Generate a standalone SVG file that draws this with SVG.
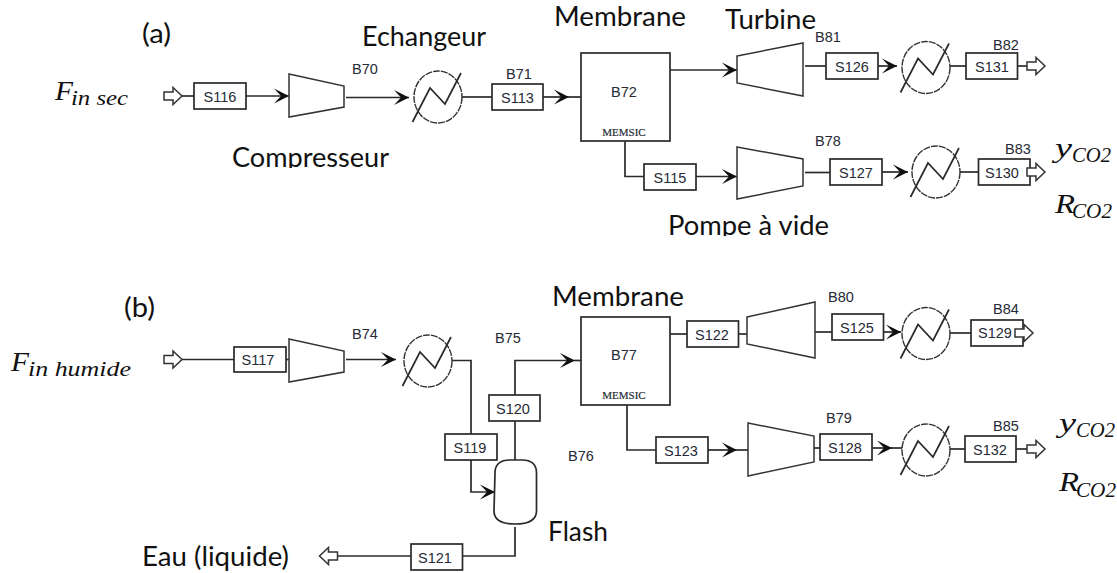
<svg xmlns="http://www.w3.org/2000/svg" width="1117" height="573" viewBox="0 0 1117 573">
<style>
.l{fill:none;stroke:#2a2a2a;stroke-width:1.7}
.a{marker-end:url(#ch)}
.b{fill:#fff;stroke:#2a2a2a;stroke-width:1.7}
.u{fill:#fff;stroke:#333;stroke-width:1.5}
.h{fill:#fff;stroke:#333;stroke-width:1.4;stroke-dasharray:7 1}
.t{font-family:"Liberation Sans",Arial,sans-serif;font-size:14.5px;fill:#262a36}
.c{text-anchor:middle}
.m{font-family:"Liberation Serif",serif;font-size:11px;fill:#262a36;text-anchor:middle;stroke:#262a36;stroke-width:.2}
.p{font-family:Lato,"Open Sans",sans-serif;font-size:26px;fill:#111}
.f{font-family:"Liberation Serif",serif;font-style:italic;fill:#111;font-size:27px}
.s{font-family:"Liberation Serif",serif;font-style:italic;fill:#111;font-size:20px}
.o{fill:#fff;stroke:#333;stroke-width:1.5}
</style>
<defs>
<marker id="ch" markerUnits="userSpaceOnUse" markerWidth="18" markerHeight="18" refX="16" refY="9" orient="auto" viewBox="0 0 18 18"><path d="M1,1.500 L16,9 L1,16.500 L8,9z" fill="#111"/></marker>
<path id="out" d="M0,-4 H9 V-8.500 L18,0 L9,8.500 V4 H0z"/>
<path id="zig" d="M-25.500,25 L-8,-9 L7,7 L23,-24"/>
<clipPath id="c1"><rect x="200" y="140" width="220" height="28"/></clipPath>
<clipPath id="c2"><rect x="640" y="205" width="220" height="31"/></clipPath>
</defs>

<g id="connectors">
<path class="l" d="M182,96 H194"/>
<path class="l a" d="M246,96 H289"/>
<path class="l a" d="M346,97.500 H409"/>
<path class="l" d="M462,97 H492"/>
<path class="l a" d="M543,97 H569"/><path class="l" d="M569,97 H581"/>
<path class="l a" d="M670,70 H737"/>
<path class="l" d="M805,66 H826"/>
<path class="l a" d="M878,66 H897"/>
<path class="l" d="M950,66 H966"/>
<path class="l" d="M1017,66 H1027"/>
<path class="l" d="M625,141 V176.500 H644"/>
<path class="l a" d="M696,176.500 H737"/>
<path class="l" d="M805,172.500 H830"/>
<path class="l a" d="M882,172 H908"/>
<path class="l" d="M960,172 H979"/>
<path class="l" d="M182,359.500 H234"/>
<path class="l" d="M286,359.500 H289"/>
<path class="l a" d="M346,359.500 H396"/>
<path class="l" d="M452,360.500 H471 V434"/>
<path class="l a" d="M471,460 V492 H495"/>
<path class="l" d="M515,460 V421"/>
<path class="l a" d="M515,395 V360.500 H575"/><path class="l" d="M575,360.500 H581"/>
<path class="l" d="M515,527 V556 H462.500"/>
<path class="l" d="M411,556 H337"/>
<path class="l" d="M670,334 H687"/>
<path class="l" d="M738.500,334 H747"/>
<path class="l" d="M815,332 H832"/>
<path class="l a" d="M883.500,332 H901"/>
<path class="l" d="M950,333 H971"/>
<path class="l" d="M627,405 V450 H656"/>
<path class="l a" d="M708,450 H737"/><path class="l" d="M737,450 H748"/>
<path class="l" d="M814,448 H820"/>
<path class="l a" d="M872,448 H892"/>
<path class="l" d="M892,448 H902"/>
<path class="l" d="M950,449 H965"/>
<path class="l" d="M1016,449 H1027"/>
</g>

<g id="in-a"><use href="#out" class="o" transform="translate(164,96)"/></g>
<g id="S116"><rect class="b" x="194" y="83" width="52" height="26"/><text class="t c" x="220" y="101.500">S116</text></g>
<g id="B70"><polygon class="u" points="289,74 344,86 344,107 289,117"/><text class="t" x="352" y="74">B70</text></g>
<g id="HX-a1"><ellipse class="h" cx="438" cy="97" rx="24" ry="26"/><use href="#zig" class="l" transform="translate(438,97)"/></g>
<g id="S113"><rect class="b" x="492" y="84" width="51" height="26"/><text class="t c" x="517.500" y="102.500">S113</text><text class="t" x="506" y="79">B71</text></g>
<g id="B72"><rect class="b" x="581" y="53" width="89" height="88"/><text class="t c" x="624" y="97">B72</text><text class="m" x="624" y="136">MEMSIC</text></g>
<g id="B81"><polygon class="u" points="737,56 803,43 803,96 737,83"/><text class="t" x="815" y="42">B81</text></g>
<g id="S126"><rect class="b" x="826" y="53" width="52" height="26"/><text class="t c" x="852" y="71.500">S126</text></g>
<g id="HX-a2"><ellipse class="h" cx="926" cy="67.500" rx="24" ry="26"/><use href="#zig" class="l" transform="translate(926,67.500)"/></g>
<g id="S131"><rect class="b" x="966" y="53" width="51.500" height="26"/><text class="t c" x="992" y="71.500">S131</text><text class="t" x="993" y="50">B82</text></g>
<g id="out-a1"><use href="#out" class="o" transform="translate(1027,66)"/></g>
<g id="S115"><rect class="b" x="644" y="164" width="52" height="26"/><text class="t c" x="670" y="182.500">S115</text></g>
<g id="B78"><polygon class="u" points="737,147 803,159 803,186 737,199"/><text class="t" x="815" y="146">B78</text></g>
<g id="S127"><rect class="b" x="830" y="159" width="52" height="26"/><text class="t c" x="856" y="177.500">S127</text></g>
<g id="HX-a3"><ellipse class="h" cx="936" cy="172" rx="24" ry="26"/><use href="#zig" class="l" transform="translate(936,172)"/></g>
<g id="S130"><rect class="b" x="978.500" y="159" width="51.500" height="26"/><text class="t c" x="1002" y="177.500">S130</text><text class="t" x="1005" y="154">B83</text></g>
<g id="out-a2"><use href="#out" class="o" transform="translate(1027,172)"/></g>

<g id="in-b"><use href="#out" class="o" transform="translate(164,359.500)"/></g>
<g id="S117"><rect class="b" x="234" y="347" width="52" height="25"/><text class="t c" x="258" y="365">S117</text></g>
<g id="B74"><polygon class="u" points="289,339 344,351 344,372 289,382"/><text class="t" x="352" y="339">B74</text></g>
<g id="HX-b1"><ellipse class="h" cx="428" cy="361" rx="24" ry="26"/><use href="#zig" class="l" transform="translate(428,361)"/></g>
<g id="S119"><rect class="b" x="445" y="434" width="52" height="26"/><text class="t c" x="470" y="452.500">S119</text></g>
<g id="S120"><rect class="b" x="489" y="395" width="51" height="26"/><text class="t c" x="513" y="413.500">S120</text></g>
<g id="B75"><text class="t" x="495" y="343">B75</text></g>
<g id="B76"><text class="t" x="568" y="461">B76</text><path class="b" d="M495,473 Q495,460 510,460 H522 Q536.500,460 536.500,473 V511 Q536.500,524 515,524 Q494,524 494,511z"/></g>
<g id="S121"><rect class="b" x="411" y="544" width="51.500" height="26"/><text class="t c" x="435" y="562.500">S121</text></g>
<g id="out-b0"><use href="#out" class="o" transform="translate(337.500,556) scale(-1,1)"/></g>
<g id="B77"><rect class="b" x="581" y="317" width="89" height="88"/><text class="t c" x="624" y="360">B77</text><text class="m" x="624" y="399">MEMSIC</text></g>
<g id="S122"><rect class="b" x="687" y="321" width="51.500" height="26"/><text class="t c" x="712" y="340">S122</text></g>
<g id="B80"><polygon class="u" points="747,317 815,302 815,358 747,344"/><text class="t" x="828" y="302">B80</text></g>
<g id="S125"><rect class="b" x="832" y="314" width="51.500" height="26"/><text class="t c" x="857" y="333">S125</text></g>
<g id="HX-b2"><ellipse class="h" cx="926" cy="333.500" rx="24" ry="26"/><use href="#zig" class="l" transform="translate(926,333.500)"/></g>
<g id="S129"><rect class="b" x="971" y="320" width="52" height="26"/><text class="t c" x="995" y="338">S129</text><text class="t" x="993" y="314">B84</text></g>
<g id="out-b1"><use href="#out" class="o" transform="translate(1015,333)"/></g>
<g id="S123"><rect class="b" x="656" y="437" width="52" height="26"/><text class="t c" x="681" y="456">S123</text></g>
<g id="B79"><polygon class="u" points="748,423 814,436 814,462 748,476"/><text class="t" x="826" y="423">B79</text></g>
<g id="S128"><rect class="b" x="820" y="434" width="52" height="26"/><text class="t c" x="845" y="453">S128</text></g>
<g id="HX-b3"><ellipse class="h" cx="926" cy="450" rx="24" ry="26"/><use href="#zig" class="l" transform="translate(926,450)"/></g>
<g id="S132"><rect class="b" x="965" y="436" width="51" height="26"/><text class="t c" x="990" y="454.500">S132</text><text class="t" x="993" y="431">B85</text></g>
<g id="out-b2"><use href="#out" class="o" transform="translate(1027,449)"/></g>

<g id="labels">
<text class="p" x="142" y="43" textLength="29" lengthAdjust="spacingAndGlyphs">(a)</text>
<text class="p" x="362" y="46" textLength="124" lengthAdjust="spacingAndGlyphs">Echangeur</text>
<text class="p" x="554" y="26" textLength="132" lengthAdjust="spacingAndGlyphs">Membrane</text>
<text class="p" x="725" y="29" textLength="91" lengthAdjust="spacingAndGlyphs">Turbine</text>
<g clip-path="url(#c1)"><text class="p" x="232" y="167" textLength="157" lengthAdjust="spacingAndGlyphs">Compresseur</text></g>
<g clip-path="url(#c2)"><text class="p" x="668" y="235" textLength="161" lengthAdjust="spacingAndGlyphs">Pompe à vide</text></g>
<text class="p" x="124" y="317" textLength="31" lengthAdjust="spacingAndGlyphs">(b)</text>
<text class="p" x="552" y="306" textLength="132" lengthAdjust="spacingAndGlyphs">Membrane</text>
<text class="p" x="548" y="541" textLength="60" lengthAdjust="spacingAndGlyphs">Flash</text>
<text class="p" x="142" y="566" textLength="147" lengthAdjust="spacingAndGlyphs">Eau (liquide)</text>
<text class="f" x="55" y="100" textLength="18" lengthAdjust="spacingAndGlyphs">F</text>
<text class="s" x="71" y="105" textLength="57" lengthAdjust="spacingAndGlyphs">in sec</text>
<text class="f" x="11" y="371" textLength="18" lengthAdjust="spacingAndGlyphs">F</text>
<text class="s" x="28" y="376" textLength="103" lengthAdjust="spacingAndGlyphs">in humide</text>
<text class="f" x="1055" y="157" textLength="17" lengthAdjust="spacingAndGlyphs">y</text>
<text class="s" x="1072" y="162" textLength="39" lengthAdjust="spacingAndGlyphs">CO2</text>
<text class="f" x="1055" y="213" textLength="20" lengthAdjust="spacingAndGlyphs">R</text>
<text class="s" x="1072" y="218" textLength="40" lengthAdjust="spacingAndGlyphs">CO2</text>
<text class="f" x="1059" y="432" textLength="17" lengthAdjust="spacingAndGlyphs">y</text>
<text class="s" x="1076" y="437" textLength="39" lengthAdjust="spacingAndGlyphs">CO2</text>
<text class="f" x="1059" y="491" textLength="20" lengthAdjust="spacingAndGlyphs">R</text>
<text class="s" x="1076" y="497" textLength="40" lengthAdjust="spacingAndGlyphs">CO2</text>
</g>
</svg>
